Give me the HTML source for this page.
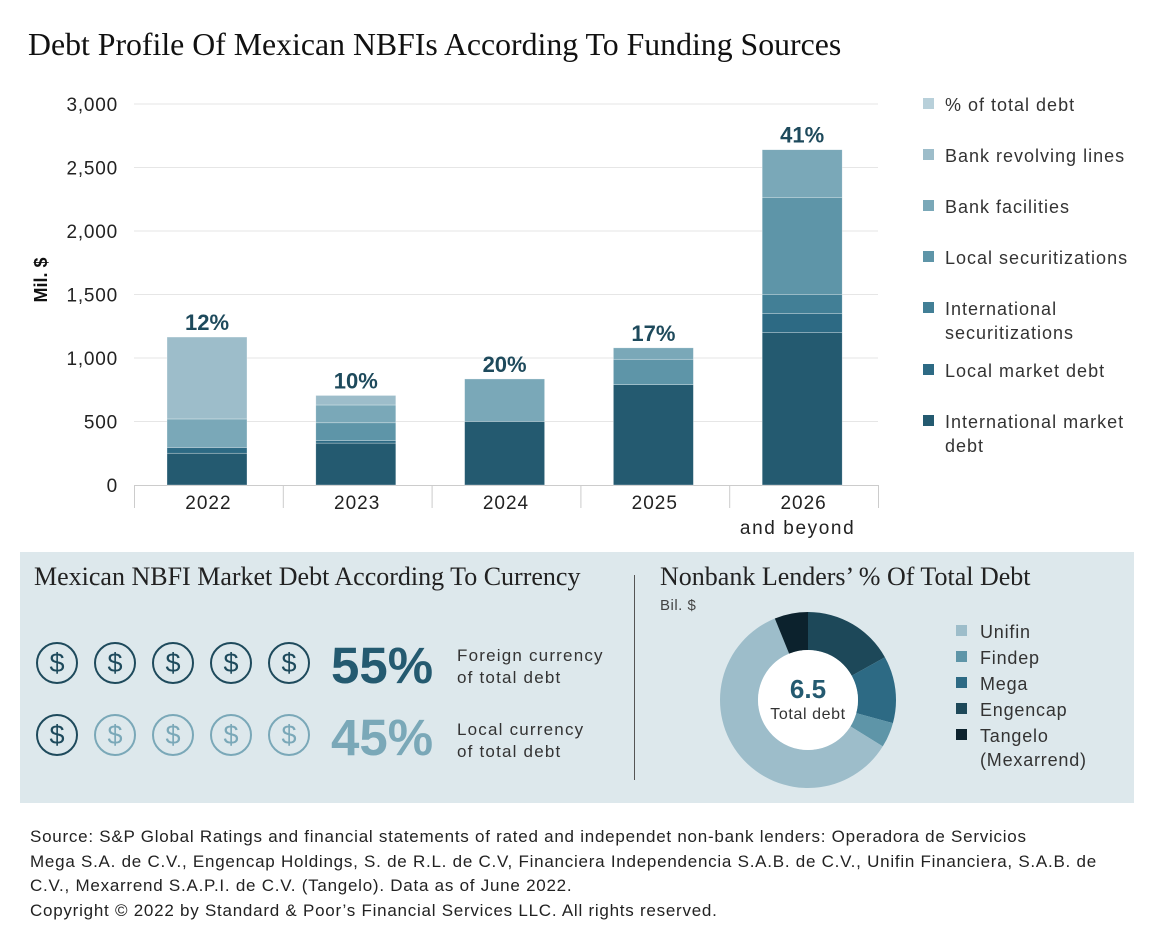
<!DOCTYPE html>
<html><head><meta charset="utf-8"><style>
body{margin:0;width:1156px;height:936px;background:#fff;font-family:"Liberation Sans",sans-serif;color:#222;position:relative;overflow:hidden}
.t{position:absolute;white-space:nowrap}
.serif{font-family:"Liberation Serif",serif}
</style></head><body>
<div class="t serif" style="left:28px;top:27px;font-size:31.8px;color:#111">Debt Profile Of Mexican NBFIs According To Funding Sources</div>
<svg id="bar" width="1156" height="545" style="position:absolute;left:0;top:0"></svg>
<div style="position:absolute;left:20px;top:552px;width:1114px;height:251px;background:#dde8ec"></div>
<div style="position:absolute;left:634px;top:575px;width:1px;height:205px;background:#555"></div>
<div class="t serif" style="left:34px;top:562px;font-size:26px;color:#222">Mexican NBFI Market Debt According To Currency</div>
<div class="t serif" style="left:660px;top:562px;font-size:26px;color:#222">Nonbank Lenders’ % Of Total Debt</div>
<div class="t" style="left:660px;top:597px;font-size:15px;color:#444;letter-spacing:0.5px">Bil. $</div>
<div id="icons"></div>
<div class="t" style="left:331px;top:636px;font-size:51px;font-weight:bold;color:#245a70">55%</div>
<div class="t" style="left:331px;top:708px;font-size:51px;font-weight:bold;color:#7aa8b8">45%</div>
<div class="t" style="left:457px;top:645px;font-size:17px;line-height:22px;color:#333;letter-spacing:1.2px">Foreign currency<br>of total debt</div>
<div class="t" style="left:457px;top:719px;font-size:17px;line-height:22px;color:#333;letter-spacing:1.2px">Local currency<br>of total debt</div>
<svg id="donut" width="1156" height="936" style="position:absolute;left:0;top:0;pointer-events:none"></svg>
<div class="t" style="left:30px;top:825px;font-size:17px;line-height:24.5px;color:#222;letter-spacing:0.75px">Source: S&amp;P Global Ratings and financial statements of rated and independet non-bank lenders: Operadora de Servicios<br>Mega S.A. de C.V., Engencap Holdings, S. de R.L. de C.V, Financiera Independencia S.A.B. de C.V., Unifin Financiera, S.A.B. de<br>C.V., Mexarrend S.A.P.I. de C.V. (Tangelo). Data as of June 2022.<br>Copyright © 2022 by Standard &amp; Poor’s Financial Services LLC. All rights reserved.</div>
<script>
const categories=["2022","2023","2024","2025","2026"];
const seriesNames=["International market debt","Local market debt","International securitizations","Local securitizations","Bank facilities","Bank revolving lines"];
const intlMarket=[250,330,500,790,1200];
const localMarket=[45,20,0,0,150];
const intlSec=[0,0,0,0,150];
const localSec=[0,140,0,200,765];
const bankFac=[225,140,335,90,375];
const bankRev=[645,75,0,0,0];
const pctLabels=["12%","10%","20%","17%","41%"];
const yTicks=[0,500,1000,1500,2000,2500,3000];
const legendNames=["% of total debt","Bank revolving lines","Bank facilities","Local securitizations","International securitizations","Local market debt","International market debt"];
const donutNames=["Engencap","Mega","Findep","Unifin","Tangelo"];
const donutVals=[1.1,0.8,0.3,3.9,0.4];
const donutLegend=["Unifin","Findep","Mega","Engencap","Tangelo (Mexarrend)"];

const NS="http://www.w3.org/2000/svg";
const cols=["#245a70","#2d6a84","#427f96","#5e95a8","#7aa8b8","#9dbdca"];
const legCols=["#b8d0da","#9dbdca","#7aa8b8","#5e95a8","#427f96","#2d6a84","#245a70"];
function mk(p,t,a){const e=document.createElementNS(NS,t);for(const k in a)e.setAttribute(k,a[k]);p.appendChild(e);return e;}
const svg=document.getElementById('bar');
const y=v=>485-v*0.127;
const x0=134,cw=148.8;
const x=i=>x0+i*cw;
yTicks.forEach(v=>{
 if(v>0){const g=mk(svg,'line',{x1:134,x2:878,y1:y(v),y2:y(v),stroke:'#e6e6e6','stroke-width':1});
 
 }
 const t=mk(svg,'text',{x:118,y:y(v)+7,'text-anchor':'end','font-size':19,fill:'#222','letter-spacing':0.8});t.textContent=v.toLocaleString('en-US');
 
 
});
const yt=mk(svg,'text',{transform:'translate(47,280) rotate(-90)','text-anchor':'middle','font-size':18,'font-weight':'bold',fill:'#111'});yt.textContent='Mil. $';


mk(svg,'line',{x1:134,x2:878,y1:485.5,y2:485.5,stroke:'#ccc'});
for(let i=0;i<=5;i++){mk(svg,'line',{x1:x(i)+.5,x2:x(i)+.5,y1:485,y2:508,stroke:'#ccc'});}
const series=[intlMarket,localMarket,intlSec,localSec,bankFac,bankRev];
categories.forEach((c,i)=>{
 let acc=0;const bx=x(i)+33,bw=80;
 series.forEach((s,j)=>{
  if(s[i]>0){const r=mk(svg,'rect',{x:bx,y:y(acc+s[i]),width:bw,height:s[i]*0.127,fill:cols[j],stroke:'#ffffff','stroke-opacity':0.5,'stroke-width':0.6});
  
  }
  acc+=s[i];
 });
 const p=mk(svg,'text',{x:bx+bw/2,y:y(acc)-7,'text-anchor':'middle','font-size':22,'font-weight':'bold',fill:'#1e4a5c'});p.textContent=pctLabels[i];
 
 
 const l=mk(svg,'text',{x:x(i)+cw/2,y:509,'text-anchor':'middle','font-size':19,fill:'#222','letter-spacing':1});l.textContent=c;
 
 
 if(i==4){const l2=mk(svg,'text',{x:x(i)+cw/2-6,y:534,'text-anchor':'middle','font-size':19,fill:'#222','letter-spacing':1.6});l2.textContent='and beyond';}
});
const ly=[104,155,206,257,308,370,421];
legendNames.forEach((n,k)=>{
 const r=mk(svg,'rect',{x:923,y:ly[k]-6,width:11,height:11,fill:legCols[k]});
 
 
 let lines=[n];
 if(n==="International securitizations")lines=["International","securitizations"];
 if(n==="International market debt")lines=["International market","debt"];
 lines.forEach((ln,m)=>{const t=mk(svg,'text',{x:945,y:ly[k]+7+m*24,'font-size':18,fill:'#333','letter-spacing':1});t.textContent=ln;
 
 });
});
const ic=document.getElementById('icons');
for(let r=0;r<2;r++)for(let i=0;i<5;i++){
 const dark=r==0||i==0;const c=dark?'#1e4a5c':'#7aa8b8';
 const d=document.createElement('div');
 
 
 d.style.cssText=`position:absolute;left:${36+i*58}px;top:${642+r*72}px;width:38px;height:38px;border:2px solid ${c};border-radius:50%;color:${c};font-size:27px;text-align:center;line-height:38px;`;
 d.textContent='$';ic.appendChild(d);
}
const ds=document.getElementById('donut');
const dcols={"Engencap":"#1d4859","Mega":"#2d6a84","Findep":"#5e95a8","Unifin":"#9dbdca","Tangelo":"#0c222d"};
const cx=808,cy=700,R=88,r0=50;const tot=donutVals.reduce((a,b)=>a+b,0);let a0=0;
donutVals.forEach((v,k)=>{
 const a1=a0+v/tot*2*Math.PI;
 const p=(a,rr)=>[cx+rr*Math.sin(a),cy-rr*Math.cos(a)];
 const [x1,y1]=p(a0,R),[x2,y2]=p(a1,R),[x3,y3]=p(a1,r0),[x4,y4]=p(a0,r0);const lg=(a1-a0)>Math.PI?1:0;
 const e=mk(ds,'path',{d:`M${x1},${y1}A${R},${R} 0 ${lg} 1 ${x2},${y2}L${x3},${y3}A${r0},${r0} 0 ${lg} 0 ${x4},${y4}Z`,fill:dcols[donutNames[k]]});
 
 
 a0=a1;
});
mk(ds,'circle',{cx:cx,cy:cy,r:r0,fill:'#fff'});
const tv=mk(ds,'text',{x:cx,y:cy-2,'text-anchor':'middle','font-size':26,'font-weight':'bold',fill:'#245a70'});tv.textContent=tot.toFixed(1);


const tl=mk(ds,'text',{x:cx,y:cy+19,'text-anchor':'middle','font-size':16,fill:'#333','letter-spacing':0.6});tl.textContent='Total debt';
const dlc=["#9dbdca","#5e95a8","#2d6a84","#1d4859","#0c222d"];
donutLegend.forEach((n,k)=>{
 const yy=631+k*26;
 const s=mk(ds,'rect',{x:956,y:yy-6,width:11,height:11,fill:dlc[k]});
 
 
 const parts=n==="Tangelo (Mexarrend)"?["Tangelo","(Mexarrend)"]:[n];
 parts.forEach((pp,m)=>{const t=mk(ds,'text',{x:980,y:yy+7+m*24,'font-size':18,fill:'#333','letter-spacing':0.8});t.textContent=pp;
 
 });
});
</script>
</body></html>
